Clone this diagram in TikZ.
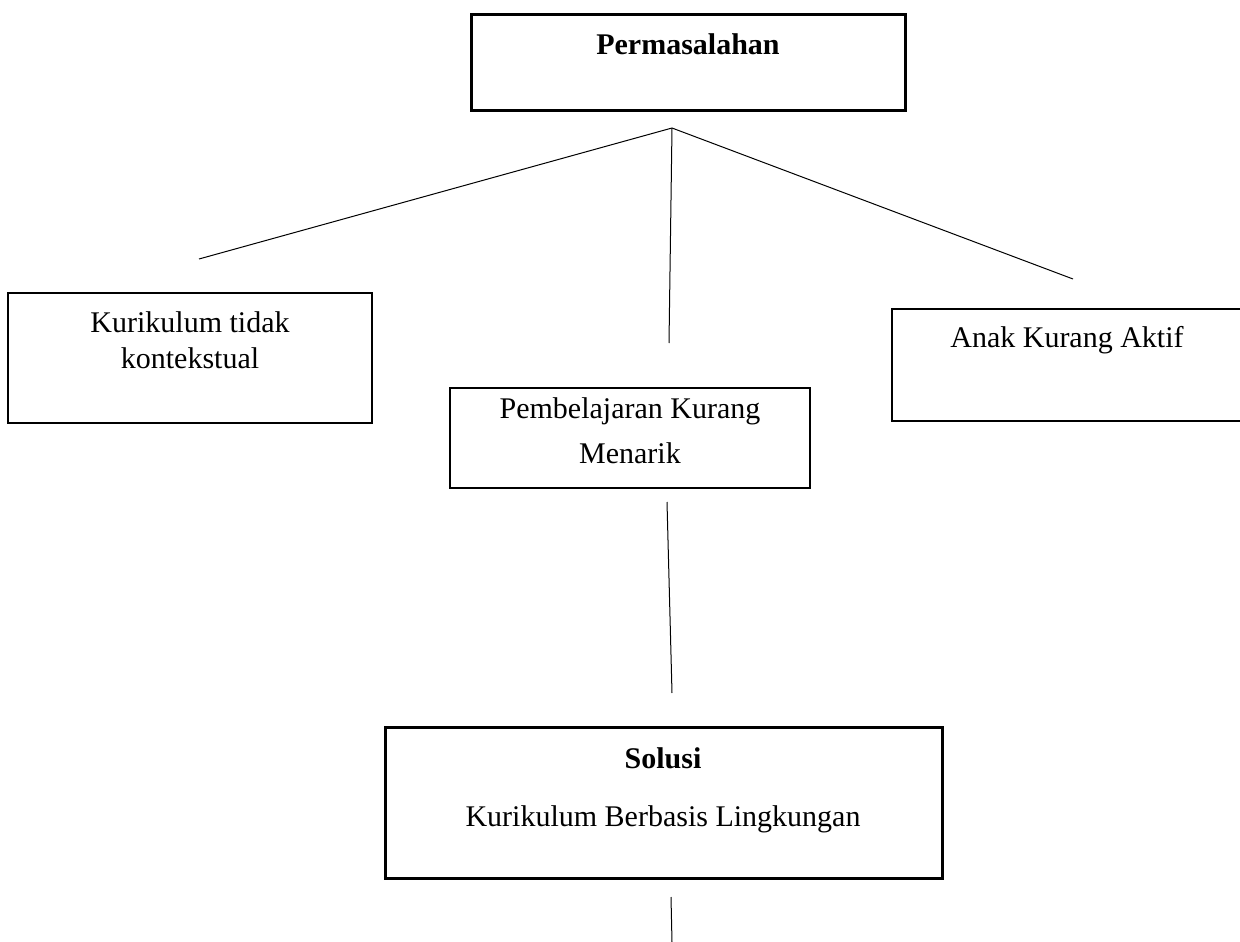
\documentclass[tikz,border=0pt]{standalone}
\usepackage{fontspec}
\setmainfont{Liberation Serif}
\begin{document}
\begin{tikzpicture}[x=0.75pt,y=-0.75pt]
\useasboundingbox (0,0) rectangle (1240,942);
\fill[white] (0,0) rectangle (1240,942);
\tikzset{
  thickbox/.style={draw=black, line width=2.25pt, inner sep=0pt},
  thinbox/.style={draw=black, line width=1.5pt, inner sep=0pt},
  txt/.style={anchor=base, inner sep=0pt, font=\fontsize{22.5}{27}\selectfont},
  btxt/.style={txt, font=\fontsize{22.5}{27}\selectfont\bfseries},
  conn/.style={draw=black, line width=0.75pt}
}
% boxes
\node[thickbox, minimum width=325.5pt, minimum height=72pt] (pbox) at (688,63) {};
\node[thinbox, minimum width=273pt, minimum height=97.5pt] (kbox) at (190,358) {};
\node[thinbox, minimum width=270pt, minimum height=75pt] (mbox) at (630,438) {};
\node[thinbox, minimum width=262.5pt, minimum height=84pt] (abox) at (1067,365) {};
\node[thickbox, minimum width=417.75pt, minimum height=113.25pt] (sbox) at (663.5,802.5) {};
% texts
\node[btxt] (ptxt) at (688,55) {Permasalahan};
\node[txt] (k1) at (190,332) {Kurikulum tidak};
\node[txt] (k2) at (190,368) {kontekstual};
\node[txt] (m1) at (630,418) {Pembelajaran Kurang};
\node[txt] (m2) at (630,463) {Menarik};
\node[txt] (a1) at (1067,347) {Anak Kurang Aktif};
\node[btxt] (s1) at (663,768) {Solusi};
\node[txt] (s2) at (663,826) {Kurikulum Berbasis Lingkungan};
% connector points
\coordinate (apex) at (672,128);
\coordinate (lend) at (199,259);
\coordinate (mend) at (669,343);
\coordinate (rend) at (1073,279);
\coordinate (m2top) at (667,502);
\coordinate (m2bot) at (672,693);
\coordinate (s2top) at (671,897);
\coordinate (s2bot) at (672,942);
\draw[conn] (apex) -- (lend);
\draw[conn] (apex) -- (mend);
\draw[conn] (apex) -- (rend);
\draw[conn] (m2top) -- (m2bot);
\draw[conn] (s2top) -- (s2bot);
\end{tikzpicture}
\end{document}
